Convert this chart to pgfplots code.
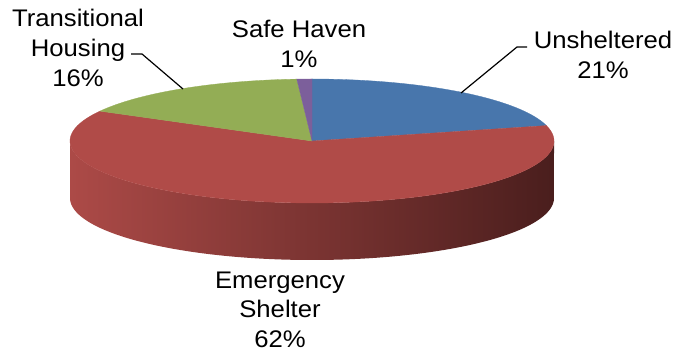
\documentclass[border=0pt]{standalone}
\usepackage{pgfplots}
\pgfplotsset{compat=1.18}
\usepackage{graphicx}
\usepackage{fontspec}
\setmainfont{Liberation Sans}
\definecolor{cU}{RGB}{72,118,172}
\definecolor{cE}{RGB}{176,75,72}
\definecolor{cT}{RGB}{147,173,85}
\definecolor{cS}{RGB}{124,95,155}
\definecolor{sideL}{RGB}{172,74,71}
\definecolor{sideM}{RGB}{142,60,58}
\definecolor{sideR}{RGB}{74,30,29}
% data (percent)
\def\vU{21}
\def\vE{62}
\def\vT{16}
\def\vS{1}
\pgfmathsetmacro{\aA}{90}
\pgfmathsetmacro{\aB}{\aA-3.6*\vU}
\pgfmathsetmacro{\aC}{\aB-3.6*\vE}
\pgfmathsetmacro{\aD}{\aC-3.6*\vT}
\pgfmathsetmacro{\aF}{\aD-3.6*\vS}
\newcommand{\wide}[1]{\scalebox{1.07}[1]{#1}}
\tikzset{lbl/.style={font=\fontsize{24}{30}\selectfont, inner sep=0pt, anchor=base}}
\begin{document}
\begin{tikzpicture}
\useasboundingbox (0,0) rectangle (674pt,356pt);
\begin{axis}[
  at={(0,0)}, anchor=south west,
  width=674pt, height=356pt, scale only axis,
  xmin=0, xmax=674, ymin=0, ymax=356,
  hide axis, clip=false,
]
% side
\addplot[draw=none, left color=sideL, middle color=sideM, right color=sideR,
  domain=180:540, samples=361, variable=\t]
  ({312+242*cos(\t)},{215+62*sin(\t)-(\t>360)*(57+124*sin(\t))}) -- cycle;
% top slices
\addplot[fill=cU, draw=cU, line width=0.3pt, domain=\aB:\aA, samples=80, variable=\t]
  ({312+242*cos(\t)},{215+62*sin(\t)}) -- (axis cs:312,215) -- cycle;
\addplot[fill=cE, draw=cE, line width=0.3pt, domain=\aC:\aB, samples=200, variable=\t]
  ({312+242*cos(\t)},{215+62*sin(\t)}) -- (axis cs:312,215) -- cycle;
\addplot[fill=cT, draw=cT, line width=0.3pt, domain=\aD:\aC, samples=80, variable=\t]
  ({312+242*cos(\t)},{215+62*sin(\t)}) -- (axis cs:312,215) -- cycle;
\addplot[fill=cS, draw=cS, line width=0.3pt, domain=\aF:\aD, samples=10, variable=\t]
  ({312+242*cos(\t)},{215+62*sin(\t)}) -- (axis cs:312,215) -- cycle;
% leader lines
\addplot[black, line width=1.2pt] coordinates {(131,302) (142,302) (183,267)};
\addplot[black, line width=1.2pt] coordinates {(527,309) (517,309) (461,263)};
% labels
\node[lbl] at (axis cs:78,329) {\wide{Transitional}};
\node[lbl] at (axis cs:78,299) {\wide{Housing}};
\node[lbl] at (axis cs:78,269) {\wide{16\%}};
\node[lbl] at (axis cs:299,318) {\wide{Safe Haven}};
\node[lbl] at (axis cs:299,288) {\wide{1\%}};
\node[lbl] at (axis cs:603,307) {\wide{Unsheltered}};
\node[lbl] at (axis cs:603,277) {\wide{21\%}};
\node[lbl] at (axis cs:280,67) {\wide{Emergency}};
\node[lbl] at (axis cs:280,38) {\wide{Shelter}};
\node[lbl] at (axis cs:280,9) {\wide{62\%}};
\end{axis}
\end{tikzpicture}
\end{document}
